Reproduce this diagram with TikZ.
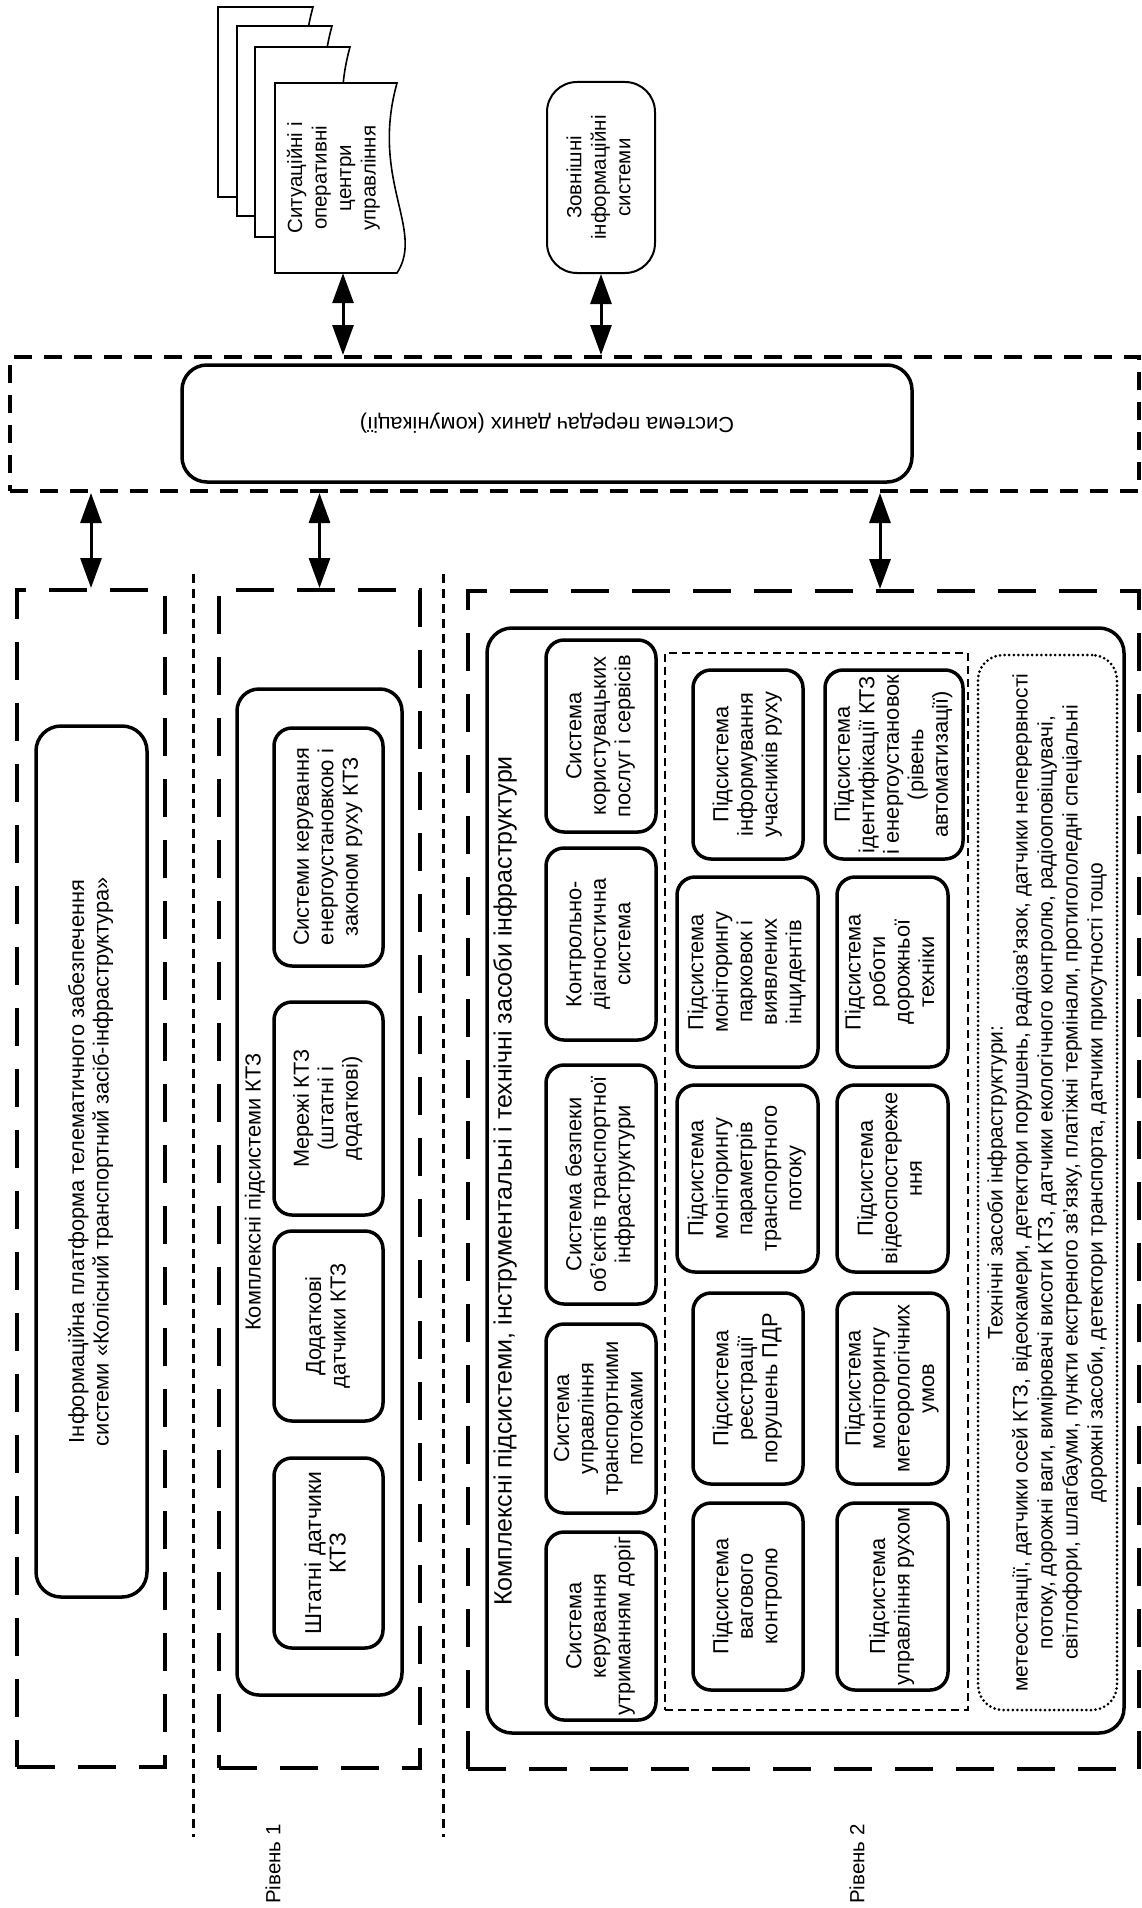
\documentclass[tikz,border=0pt]{standalone}
\usepackage{fontspec}
\setmainfont{Liberation Sans}
\usetikzlibrary{arrows.meta}
\newcommand{\rottext}[1]{\rotatebox{90}{\begin{tabular}{@{}c@{}}#1\end{tabular}}}
\tikzset{
  every node/.style={inner sep=0pt, align=center},
  txt/.style={font=\fontsize{21.8}{24.5}\selectfont},
  rbox/.style={draw, line width=3.5pt, rounded corners=18pt, txt},
  thinbox/.style={draw, line width=2pt, rounded corners=30pt, font=\fontsize{20.5}{24.5}\selectfont},
  bigbox/.style={draw, line width=3.5pt, rounded corners=25pt},
  lvlbox/.style={draw, line width=4pt, dash pattern=on 38pt off 23pt},
  commdash/.style={draw, line width=4pt, dash pattern=on 18pt off 12pt},
  sepline/.style={line width=3pt, dash pattern=on 9pt off 6pt},
  subdash/.style={draw, line width=2.3pt, dash pattern=on 8pt off 5pt},
  dotbox/.style={draw, line width=3pt, dash pattern=on 0pt off 4.6pt, line cap=round, rounded corners=25pt, font=\fontsize{21}{25}\selectfont},
  docpage/.style={draw, line width=1.6pt, fill=white},
  biarrow/.style={line width=3pt, {Triangle[length=30pt,width=21pt]}-{Triangle[length=30pt,width=21pt]}},
}
\begin{document}
\begin{tikzpicture}[x=1pt,y=-1pt]
\useasboundingbox (0,0) rectangle (1141,1908);
% ---------- stacked documents ----------
\draw[docpage] (218,7) -- (313,7) .. controls (286,104) and (341,154) .. (313,197) -- (218,197) -- cycle;
\draw[docpage] (237,26) -- (332,26) .. controls (305,123) and (360,173) .. (332,216) -- (237,216) -- cycle;
\draw[docpage] (255,47) -- (350,47) .. controls (323,144) and (378,194) .. (350,237) -- (255,237) -- cycle;
\draw[docpage] (275,83) -- (397,83) .. controls (370,180) and (425,230) .. (397,273) -- (275,273) -- cycle;
\node[minimum width=122pt, minimum height=190pt, font=\fontsize{20.5}{24.5}\selectfont] (doc) at (334,178)
  {\rottext{Ситуаційні і\\оперативні\\центри\\управління}};
\node[thinbox, minimum width=108pt, minimum height=191pt] (ext) at (601,177.5)
  {\rottext{Зовнішні\\інформаційні\\системи}};
% ---------- communication system ----------
\node[commdash, minimum width=1129pt, minimum height=134pt] (commouter) at (574.5,424) {};
\node[bigbox, txt, minimum width=730pt, minimum height=117pt] (comm) at (547,423.5)
  {\rotatebox{180}{Система передач даних (комунікації)}};
\draw[biarrow] ([xshift=9pt]doc.south) -- ([xshift=9pt]doc.south |- commouter.north);
\draw[biarrow] (ext.south) -- (ext.south |- commouter.north);
% ---------- level containers ----------
\node[lvlbox, minimum width=148pt, minimum height=1177pt] (lvl0) at (91,1178.5) {};
\node[lvlbox, minimum width=201pt, minimum height=1178pt] (lvl1) at (319.5,1179) {};
\node[lvlbox, minimum width=671pt, minimum height=1178pt] (lvl2) at (803.5,1180) {};
\coordinate (lvl2arr) at ([xshift=76.5pt]lvl2.north);
\draw[biarrow] (commouter.south -| lvl0.north) -- (lvl0.north);
\draw[biarrow] (commouter.south -| lvl1.north) -- (lvl1.north);
\draw[biarrow] (commouter.south -| lvl2arr) -- (lvl2arr);
\draw[sepline] (193,574) -- (193,1837);
\draw[sepline] (443,574) -- (443,1837);
\node[font=\fontsize{20.5}{24}\selectfont] (lev1) at (273,1864) {\rotatebox{90}{Рівень 1}};
\node[font=\fontsize{20.5}{24}\selectfont] (lev2) at (857,1864) {\rotatebox{90}{Рівень 2}};
% ---------- platform ----------
\node[rbox, rounded corners=25pt, minimum width=111pt, minimum height=871pt] (platform) at (91.5,1161.5)
  {\rottext{Інформаційна платформа телематичного забезпечення\\системи «Колісний транспортний засіб-інфраструктура»}};
% ---------- level 1 ----------
\node[rbox, rounded corners=22pt, minimum width=165pt, minimum height=1006pt] (kts) at (319.5,1192) {};
\node[txt] (ktslbl) at (255,1192) {\rotatebox{90}{Комплексні підсистеми КТЗ}};
\node[rbox, minimum width=109pt, minimum height=238pt] (k1) at (328.5,847)
  {\rottext{Системи керування\\енергоустановкою і\\законом руху КТЗ}};
\node[rbox, minimum width=109pt, minimum height=213pt] (k2) at (328.5,1108.5)
  {\rottext{Мережі КТЗ\\(штатні і\\додаткові)}};
\node[rbox, minimum width=109pt, minimum height=190pt] (k3) at (328.5,1326)
  {\rottext{Додаткові\\датчики КТЗ}};
\node[rbox, minimum width=109pt, minimum height=190pt] (k4) at (328.5,1553)
  {\rottext{\fontsize{23}{25}\selectfont Штатні датчики\\\fontsize{23}{25}\selectfont КТЗ}};
% ---------- level 2 ----------
\node[bigbox, minimum width=637pt, minimum height=1105pt] (infra) at (805.5,1180.5) {};
\node[font=\fontsize{25}{28}\selectfont] (infralbl) at (505,1181)
  {\rotatebox{90}{Комплексні підсистеми, інструментальні і технічні засоби інфраструктури}};
\node[rbox, minimum width=110pt, minimum height=192pt] (b1) at (601,736)
  {\rottext{Система\\користувацьких\\послуг і сервісів}};
\node[rbox, minimum width=110pt, minimum height=192pt] (b2) at (601,944)
  {\rottext{Контрольно-\\діагностична\\система}};
\node[rbox, minimum width=110pt, minimum height=239pt] (b3) at (601,1184.5)
  {\rottext{Система безпеки\\об'єктів транспортної\\інфраструктури}};
\node[rbox, minimum width=110pt, minimum height=189pt] (b4) at (601,1418.5)
  {\rottext{Система\\управління\\транспортними\\потоками}};
\node[rbox, minimum width=110pt, minimum height=188pt] (b5) at (601,1626)
  {\rottext{Система\\керування\\утриманням доріг}};
\node[subdash, minimum width=303pt, minimum height=1057pt] (subs) at (816.5,1181.5) {};
% column 1
\node[rbox, minimum width=110pt, minimum height=189pt] (s11) at (748,764.5)
  {\rottext{Підсистема\\інформування\\учасників руху}};
\node[rbox, minimum width=141pt, minimum height=190pt] (s12) at (747.5,972)
  {\rottext{Підсистема\\моніторингу\\парковок і\\виявлених\\інцидентів}};
\node[rbox, minimum width=141pt, minimum height=187pt] (s13) at (747.5,1178.5)
  {\rottext{Підсистема\\моніторингу\\параметрів\\транспортного\\потоку}};
\node[rbox, minimum width=110pt, minimum height=191pt] (s14) at (748,1388.5)
  {\rottext{Підсистема\\реєстрації\\порушень ПДР}};
\node[rbox, minimum width=110pt, minimum height=187pt] (s15) at (748,1596.5)
  {\rottext{Підсистема\\вагового\\контролю}};
% column 2
\node[rbox, minimum width=138pt, minimum height=189pt] (s21) at (894,764.5)
  {\rottext{Підсистема\\ідентифікації КТЗ\\і енергоустановок\\(рівень\\автоматизації)}};
\node[rbox, minimum width=111pt, minimum height=190pt] (s22) at (892.5,972)
  {\rottext{Підсистема\\роботи\\дорожньої\\техніки}};
\node[rbox, minimum width=111pt, minimum height=187pt] (s23) at (892.5,1178.5)
  {\rottext{Підсистема\\відеоспостереже\\ння}};
\node[rbox, minimum width=111pt, minimum height=191pt] (s24) at (892.5,1388.5)
  {\rottext{Підсистема\\моніторингу\\метеорологічних\\умов}};
\node[rbox, minimum width=111pt, minimum height=187pt] (s25) at (892.5,1596.5)
  {\rottext{Підсистема\\управління рухом}};
% technical means
\node[dotbox, minimum width=139pt, minimum height=1055pt] (tech) at (1047.5,1182.5)
  {\rottext{Технічні засоби інфраструктури:\\
  метеостанції, датчики осей КТЗ, відеокамери, детектори порушень, радіозв'язок, датчики неперервності\\
  потоку, дорожні ваги, вимірювачі висоти КТЗ, датчики екологічного контролю, радіооповіщувачі,\\
  світлофори, шлагбауми, пункти екстреного зв'язку, платіжні термінали, протигололедні спеціальні\\
  дорожні засоби, детектори транспорта, датчики присутності тощо}};
\end{tikzpicture}
\end{document}
